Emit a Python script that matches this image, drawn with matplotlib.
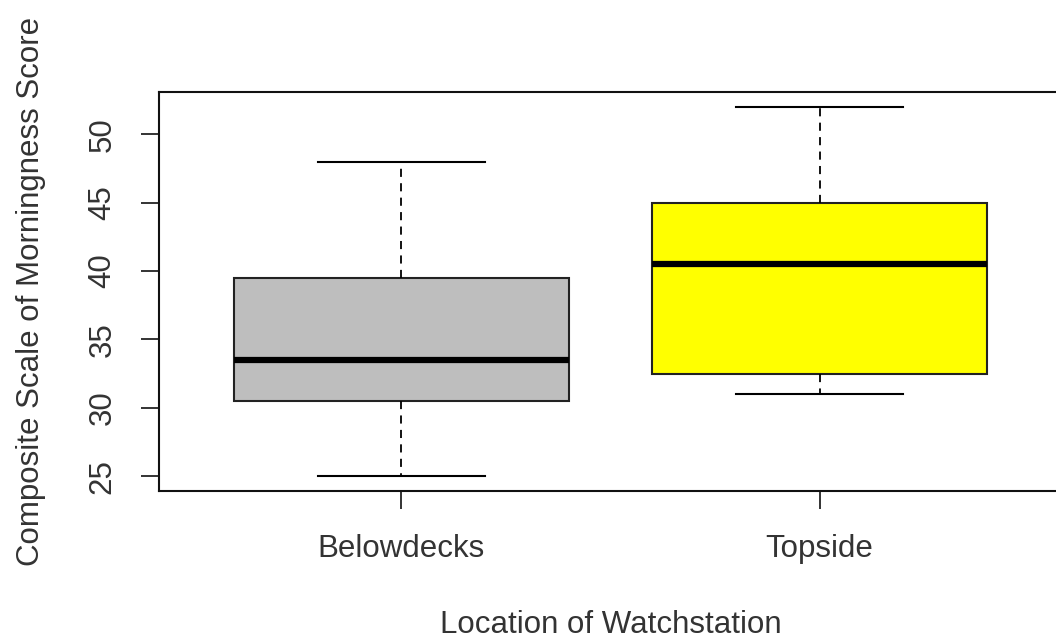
import matplotlib
matplotlib.use('Agg')
import matplotlib.pyplot as plt

# data
groups = ['Belowdecks', 'Topside']
whisker_lo = [25, 31]
q1 = [30.5, 32.5]
medians = [33.5, 40.5]
q3 = [39.5, 45]
whisker_hi = [48, 52]
fill_colors = ['#BEBEBE', '#FFFF00']

plt.rcParams['font.family'] = ['Liberation Sans', 'DejaVu Sans']

fig = plt.figure(figsize=(10.56, 6.41), dpi=100)
ax = fig.add_axes([159/1056, 150/641, 903/1056, 399/641])

stats = []
for i in range(len(groups)):
    stats.append({'label': groups[i], 'whislo': whisker_lo[i], 'q1': q1[i],
                  'med': medians[i], 'q3': q3[i], 'whishi': whisker_hi[i]})

bp = ax.bxp(stats, positions=[1, 2], widths=0.8, capwidths=0.4,
            patch_artist=True, showfliers=False,
            boxprops=dict(linewidth=1.5, edgecolor='#222222'),
            whiskerprops=dict(linewidth=1.3, linestyle=(0, (4.5, 3.5)), color='black'),
            capprops=dict(linewidth=1.5, color='black'),
            medianprops=dict(linewidth=4.5, color='black', solid_capstyle='butt'))
for patch, c in zip(bp['boxes'], fill_colors):
    patch.set_facecolor(c)

ax.set_xlim(0.42, 2.58)
ax.set_ylim(23.92, 53.08)
ax.set_yticks([25, 30, 35, 40, 45, 50])
ax.set_xticks([1, 2])
ax.set_xticklabels(groups)

for sp in ax.spines.values():
    sp.set_linewidth(1.5)
    sp.set_color('#111111')

ax.tick_params(axis='both', length=13, width=1.2, pad=18, labelsize=22.5, colors='#111111',
               labelcolor='#333333')
ax.tick_params(axis='y', labelrotation=90, pad=17)
for lab in ax.get_yticklabels():
    lab.set_va('center')

ax.set_xlabel('Location of Watchstation', fontsize=22.5, color='#333333', labelpad=33)
ax.set_ylabel('Composite Scale of Morningness Score', fontsize=22.5, color='#333333', labelpad=30)

fig.savefig('out.png', dpi=100)
